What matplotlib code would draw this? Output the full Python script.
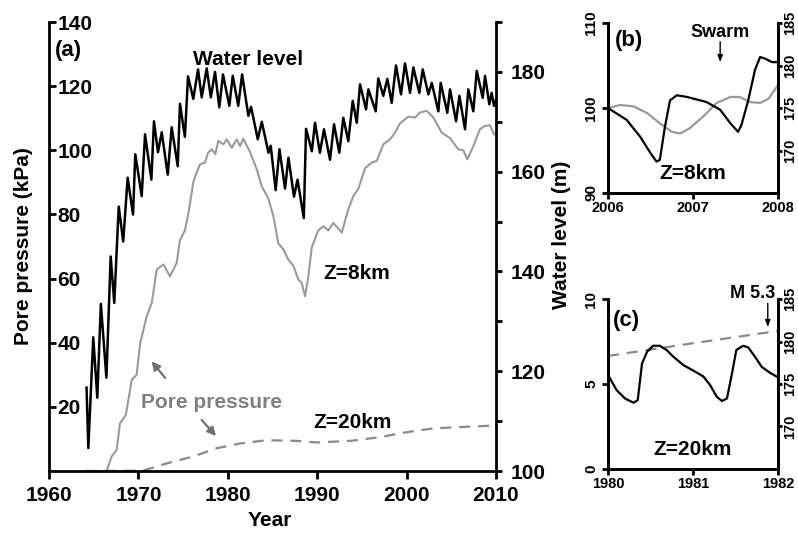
import matplotlib
matplotlib.use('Agg')
import matplotlib.pyplot as plt
from matplotlib.ticker import MultipleLocator

plt.rcParams['font.family'] = ['Liberation Sans', 'DejaVu Sans']
plt.rcParams['font.weight'] = 'bold'

# water level (m), right axis of panel (a)
wl_year = [1964.2, 1964.4, 1964.95, 1965.4, 1965.8, 1966.42, 1966.9, 1967.3, 1967.8, 1968.3,
           1968.8, 1969.4, 1969.65, 1970.37, 1970.74, 1971.45, 1971.74, 1972.19, 1972.61, 1973.28,
           1973.72, 1974.4, 1974.65, 1975.2, 1975.55, 1976.14, 1976.67, 1977.08, 1977.64, 1978.1,
           1978.57, 1979.05, 1979.46, 1980.17, 1980.55, 1981.17, 1981.6, 1982.3, 1982.6, 1983.35,
           1983.8, 1984.55, 1984.8, 1985.35, 1985.78, 1986.4, 1986.78, 1987.4, 1987.8, 1988.5,
           1988.75, 1989.4, 1989.75, 1990.3, 1990.76, 1991.43, 1991.88, 1992.47, 1992.92, 1993.48,
           1993.97, 1994.42, 1994.79, 1995.46, 1995.72, 1996.54, 1996.83, 1997.39, 1997.84, 1998.33,
           1998.81, 1999.37, 1999.82, 2000.38, 2000.75, 2001.42, 2001.8, 2002.43, 2002.81, 2003.55,
           2003.81, 2004.55, 2004.85, 2005.53, 2005.9, 2006.53, 2006.9, 2007.46, 2007.84, 2008.51,
           2008.77, 2009.25, 2009.51, 2009.77, 2010.0]
wl_m = [116.7, 104.6, 126.8, 114.7, 133.5, 118.7, 143.0, 133.7, 153.0, 146.0,
        158.8, 151.4, 163.5, 155.1, 167.5, 158.4, 170.1, 163.9, 167.9, 159.4,
        168.9, 161.1, 173.6, 167.0, 179.1, 174.6, 180.5, 174.9, 180.7, 174.9,
        180.0, 172.9, 179.5, 173.2, 179.2, 173.2, 179.5, 171.2, 173.0, 166.5,
        170.0, 163.8, 165.2, 156.3, 164.5, 156.6, 162.8, 155.0, 158.4, 150.7,
        168.6, 164.1, 169.8, 163.8, 168.5, 162.4, 169.5, 163.8, 170.8, 166.1,
        174.2, 169.8, 177.5, 172.5, 176.5, 172.1, 178.7, 175.2, 178.6, 173.8,
        181.3, 175.5, 181.7, 175.8, 180.9, 175.8, 180.5, 175.5, 177.8, 172.1,
        177.8, 171.8, 176.5, 170.1, 175.2, 168.5, 176.5, 172.1, 180.2, 174.8,
        179.2, 173.5, 175.8, 173.2, 174.5]

# pore pressure at Z=8km (kPa)
z8_year = [1964.2, 1966.45, 1967.0, 1967.57, 1967.94, 1968.6, 1969.25, 1969.8, 1970.2, 1970.93,
           1971.49, 1972.05, 1972.79, 1973.53, 1974.28, 1974.65, 1975.2, 1975.6, 1976.14, 1976.5,
           1976.9, 1977.45, 1977.8, 1978.2, 1978.6, 1978.94, 1979.5, 1979.88, 1980.44, 1981.0,
           1981.37, 1981.73, 1982.48, 1983.23, 1983.79, 1984.53, 1985.09, 1985.65, 1986.2, 1986.77,
           1987.33, 1987.89, 1988.26, 1988.64, 1989.0, 1989.38, 1989.56, 1990.12, 1990.68, 1991.24,
           1991.8, 1992.74, 1993.48, 1994.04, 1994.6, 1995.35, 1996.1, 1996.66, 1997.4, 1998.14,
           1998.7, 1999.26, 2000.19, 2000.94, 2001.5, 2002.25, 2003.0, 2003.93, 2004.85, 2005.78,
           2006.34, 2006.79, 2007.46, 2008.2, 2008.77, 2009.33, 2009.78]
z8_kpa = [0, 0, 4.5, 6.6, 14.9, 17.5, 28.4, 30.0, 39.9, 48.2,
          52.4, 62.8, 64.4, 60.7, 64.9, 72.0, 75.0, 80.5, 90.0, 93.0,
          95.6, 96.2, 99.3, 100.3, 98.8, 102.9, 101.9, 103.4, 100.8, 103.4,
          101.3, 103.6, 99.5, 94.1, 88.8, 85.0, 79.5, 71.0, 69.1, 65.9,
          64.0, 59.7, 58.7, 54.5, 60.5, 69.5, 71.0, 75.0, 76.3, 75.0,
          77.4, 74.3, 81.6, 85.7, 88.0, 94.4, 96.2, 96.7, 101.9, 103.4,
          105.5, 108.4, 110.5, 110.2, 111.8, 112.3, 110.2, 105.5, 103.8, 100.3,
          100.0, 97.2, 101.3, 106.6, 107.6, 107.8, 105.0]

# pore pressure at Z=20km (kPa)
z20_year = [1964.2, 1970.5, 1973.2, 1976.1, 1978.76, 1981.4, 1984.35, 1987.7, 1989.9, 1993.7,
            1997.4, 1999.26, 2003.0, 2006.7, 2010.0]
z20_kpa = [0, 0.1, 2.4, 4.5, 7.1, 8.6, 9.6, 9.4, 8.9, 9.4,
           10.7, 11.8, 13.3, 13.8, 14.2]

# panel (b): 2006-2008
b_year = [2006.0, 2006.22, 2006.38, 2006.5, 2006.57, 2006.61, 2006.67, 2006.73, 2006.81, 2006.93,
          2007.16, 2007.32, 2007.44, 2007.53, 2007.57, 2007.65, 2007.73, 2007.79, 2007.85, 2007.93, 2008.0]
b_wl = [175.0, 173.6, 171.6, 169.7, 168.7, 168.9, 172.8, 175.9, 176.5, 176.3,
        175.7, 174.8, 173.2, 172.2, 173.0, 175.9, 179.5, 181.0, 180.8, 180.4, 180.4]
b_pp_year = [2006.0, 2006.14, 2006.3, 2006.46, 2006.61, 2006.75, 2006.85, 2006.96, 2007.12, 2007.28,
             2007.44, 2007.55, 2007.67, 2007.79, 2007.89, 2008.0]
b_pp = [100.0, 100.35, 100.2, 99.4, 98.2, 97.2, 97.0, 97.6, 99.0, 100.6,
        101.3, 101.3, 100.7, 100.6, 101.1, 102.7]

# panel (c): 1980-1982
c_year = [1980.01, 1980.1, 1980.2, 1980.3, 1980.35, 1980.4, 1980.46, 1980.53, 1980.61, 1980.69,
          1980.77, 1980.89, 1981.0, 1981.12, 1981.2, 1981.28, 1981.34, 1981.4, 1981.46, 1981.51,
          1981.59, 1981.65, 1981.73, 1981.81, 1981.91, 1981.98]
c_wl = [175.9, 174.3, 173.3, 172.8, 173.1, 177.4, 178.8, 179.5, 179.5, 179.0,
        178.2, 177.2, 176.6, 175.9, 174.9, 173.5, 173.0, 173.3, 176.3, 179.0,
        179.5, 179.3, 178.2, 177.0, 176.3, 175.9]
c_pp_year = [1980.0, 1981.0, 1982.0]
c_pp = [6.65, 7.4, 8.12]

GRAY = '#9a9a9a'
DGRAY = '#8a8a8a'
fs = 15

fig = plt.figure(figsize=(7.98, 5.33), dpi=100)

# ---------------- panel (a)
ax = fig.add_axes([0.0614, 0.1163, 0.5602, 0.8424])
ax2 = ax.twinx()
ax.plot(z8_year, z8_kpa, color=GRAY, lw=1.5)
ax.plot(z20_year, z20_kpa, color=DGRAY, lw=1.6, ls=(0, (5, 3.5)))
ax2.plot(wl_year, wl_m, color='k', lw=1.8)

ax.set_xlim(1960, 2010)
ax.set_ylim(0, 140)
ax2.set_ylim(100, 190)
ax.set_xticks(range(1960, 2011, 10))
ax.set_yticks(range(20, 141, 20))
ax2.set_yticks(range(100, 181, 20))
ax2.yaxis.set_minor_locator(MultipleLocator(10))

for a in (ax, ax2):
    a.spines['top'].set_visible(False)
    for s in a.spines.values():
        s.set_linewidth(2)
ax.spines['right'].set_visible(False)
ax2.spines['left'].set_visible(False)
ax2.spines['bottom'].set_visible(False)

ax.tick_params(axis='y', direction='in', length=5, width=2, pad=-6, labelsize=fs)
for t in ax.get_yticklabels():
    t.set_horizontalalignment('left')
ax.tick_params(axis='x', direction='out', length=6, width=2, pad=5, labelsize=fs)
ax2.tick_params(axis='y', which='both', direction='out', length=4.5, width=2, pad=6, labelsize=fs)

ax.set_xlabel('Year', fontsize=fs, fontweight='bold')
ax.xaxis.set_label_coords(0.494, -0.09)
ax.set_ylabel('Pore pressure (kPa)', fontsize=fs, fontweight='bold')
ax.yaxis.set_label_coords(-0.035, 0.5)
ax2.set_ylabel('Water level (m)', fontsize=fs, fontweight='bold')
ax2.yaxis.set_label_coords(1.125, 0.526)

ax.text(1960.7, 131, '(a)', fontsize=16, fontweight='bold', ha='left', va='center')
ax.text(1982.26, 128.4, 'Water level', fontsize=fs, fontweight='bold', ha='center', va='center')
ax.text(1994.45, 61.5, 'Z=8km', fontsize=fs, fontweight='bold', ha='center', va='center')
ax.text(1993.9, 15, 'Z=20km', fontsize=fs, fontweight='bold', ha='center', va='center')
ax.text(1978.2, 21.3, 'Pore pressure', fontsize=fs, fontweight='bold', color='#808080',
        ha='center', va='center')
arrow = dict(arrowstyle='-|>,head_length=0.5,head_width=0.25', color='#707070', lw=1.6,
             shrinkA=0, shrinkB=0)
ax.annotate('', xy=(1971.47, 34.2), xytext=(1973.0, 29.0), arrowprops=arrow)
ax.annotate('', xy=(1978.68, 10.9), xytext=(1977.08, 15.9), arrowprops=arrow)

# ---------------- insets
def inset(rect, xlim, yl, yticks, xticks):
    a = fig.add_axes(rect)
    b = a.twinx()
    a.set_xlim(*xlim)
    a.set_ylim(*yl)
    b.set_ylim(165, 185)
    a.set_xticks(xticks)
    a.set_xticklabels([str(v) for v in xticks])
    a.set_yticks(yticks)
    b.set_yticks([170, 175, 180, 185])
    for s in (a, b):
        s.spines['top'].set_visible(False)
        for sp in s.spines.values():
            sp.set_linewidth(2)
    a.tick_params(axis='x', direction='out', length=4, width=2, pad=2, labelsize=10.5)
    a.tick_params(axis='y', direction='out', length=4, width=2, pad=3, labelsize=11,
                  labelrotation=90)
    b.tick_params(axis='y', direction='out', length=3, width=2, pad=1, labelsize=10.5,
                  labelrotation=90)
    for t in a.get_yticklabels() + b.get_yticklabels():
        t.set_verticalalignment('center')
    return a, b

bx, bx2 = inset([0.7619, 0.6379, 0.2130, 0.3189], (2006, 2008), (90, 110), [90, 100, 110],
                [2006, 2007, 2008])
bx.plot(b_pp_year, b_pp, color=GRAY, lw=1.6)
bx2.plot(b_year, b_wl, color='k', lw=1.6)
bx.text(2006.08, 108, '(b)', fontsize=16, fontweight='bold', ha='left', va='center')
bx.text(2007.32, 108.9, 'Swarm', fontsize=13, fontweight='bold', ha='center', va='center')
bx.annotate('', xy=(2007.32, 105.4), xytext=(2007.32, 107.8),
            arrowprops=dict(arrowstyle='-|>,head_length=0.4,head_width=0.15', color='k', lw=1,
                            shrinkA=0, shrinkB=0))
bx.text(2007.0, 92.35, 'Z=8km', fontsize=fs, fontweight='bold', ha='center', va='center')

cx, cx2 = inset([0.7619, 0.1201, 0.2130, 0.3189], (1980, 1982), (0, 10), [0, 5, 10],
                [1980, 1981, 1982])
cx.plot(c_pp_year, c_pp, color=DGRAY, lw=1.6, ls=(0, (5, 3.5)))
cx2.plot(c_year, c_wl, color='k', lw=1.6)
cx.text(1980.06, 8.76, '(c)', fontsize=16, fontweight='bold', ha='left', va='center')
cx.text(1981.7, 10.35, 'M 5.3', fontsize=13, fontweight='bold', ha='center', va='center')
cx.annotate('', xy=(1981.88, 8.35), xytext=(1981.88, 9.75),
            arrowprops=dict(arrowstyle='-|>,head_length=0.4,head_width=0.15', color='k', lw=1,
                            shrinkA=0, shrinkB=0))
cx.text(1980.99, 1.12, 'Z=20km', fontsize=fs, fontweight='bold', ha='center', va='center')

fig.savefig('out.png', dpi=100)
